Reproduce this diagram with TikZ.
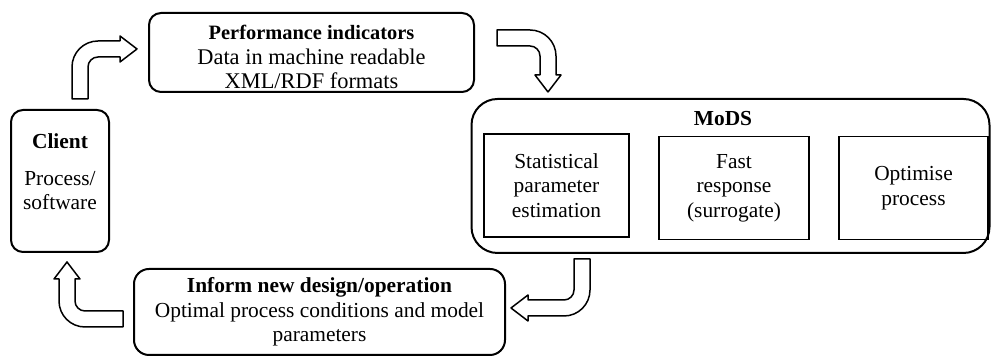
\documentclass[tikz,border=0pt]{standalone}
\usepackage{fontspec}
\setmainfont{Liberation Serif}

\begin{document}
\begin{tikzpicture}[x=0.5pt, y=0.5pt,
	font=\fontsize{10.7}{12.3}\selectfont,
	box/.style={draw, line width=1pt, rounded corners=6pt, align=center, inner sep=0pt},
	sub/.style={draw, line width=0.75pt, align=center, inner sep=0pt, minimum height=51.5pt},
	pics/bend/.style 2 args={code={
		\draw[line width=0.75pt, line join=round, fill=white]
			(-8,0) -- (-8,#1-18) arc[start angle=180, end angle=90, radius=26]
			-- (#2-17,#1+8) -- (#2-17,#1+13) -- (#2,#1) -- (#2-17,#1-13) -- (#2-17,#1-8)
			-- (18,#1-8) arc[start angle=90, end angle=180, radius=10] -- (8,0) -- cycle;
	}}]
\useasboundingbox (0,0) rectangle (991,356);

\node [box, minimum width=49pt, minimum height=71pt] (client) at (60,175)
	{\textbf{Client}\\[6pt]Process/\\software\\[-3pt]\mbox{}};
\node [box, minimum width=162.5pt, minimum height=39.5pt, font=\fontsize{11.2}{12.2}\selectfont] (perf) at (311.5,303.5)
	{\mbox{}\\[-0.5pt]{\fontsize{10.2}{12.2}\selectfont\bfseries Performance indicators}\\Data in machine readable\\XML/RDF formats};
\node [box, rounded corners=13pt, minimum width=259pt, minimum height=77pt] (mods) at (730.5,180) {};
\node (title) at (723,237) {\textbf{MoDS}};
\node [sub, minimum width=72.5pt] (stat) at (556.5,170.5) {Statistical\\parameter\\estimation};
\node [sub, minimum width=75pt] (fast) at (734,168) {Fast\\response\\(surrogate)};
\node [sub, minimum width=74.5pt] (opt) at (913.5,168) {Optimise\\process};
\node [box, rounded corners=7.5pt, minimum width=185.5pt, minimum height=43pt] (inform) at (319.5,44)
	{\textbf{Inform new design/operation}\\Optimal process conditions and model\\parameters};

\pic at ([shift={(20,10)}]client.north) {bend={50}{57}};
\pic [rotate=-90] at ([shift={(22,14.5)}]perf.east) {bend={51}{54}};
\pic [rotate=180] at ([shift={(111.5,-5)}]mods.south west) {bend={49}{71}};
\pic [rotate=90] at ([shift={(-10,-7)}]inform.west) {bend={56}{57}};
\end{tikzpicture}
\end{document}
